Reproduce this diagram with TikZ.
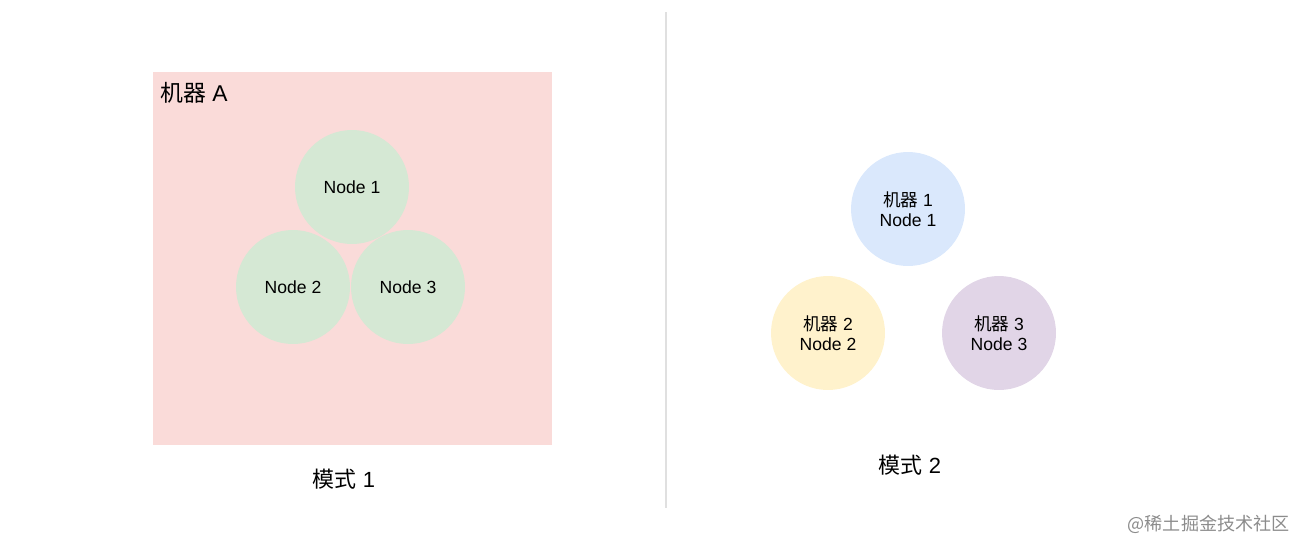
\documentclass[tikz,border=0pt]{standalone}
\usepackage{fontspec}
\setmainfont{Liberation Sans}
\newfontfamily\cjk{Noto Sans CJK SC}
\usetikzlibrary{positioning}

\definecolor{hostpink}{HTML}{FADBD9}
\definecolor{nodegreen}{HTML}{D5E8D4}
\definecolor{nodeblue}{HTML}{DAE8FC}
\definecolor{nodeyellow}{HTML}{FFF2CC}
\definecolor{nodepurple}{HTML}{E1D5E7}

\tikzset{
  proc/.style={circle, inner sep=0pt, minimum size=2.28cm, text=black,
    align=center, font=\fontsize{10}{11.5}\selectfont},
  caption/.style={font=\fontsize{12.5}{14}\selectfont}
}

\begin{document}
\begin{tikzpicture}[x=0.02cm, y=-0.02cm]
\useasboundingbox (0,0) rectangle (1304,551);

\def\ya{187};
\def\yb{287};
\def\yc{209};
\def\yd{333};

% mode 1: one machine
\node[fill=hostpink, minimum width=7.98cm, minimum height=7.46cm, inner sep=0pt] (hostA) at (352.5,258.5) {};
\node[anchor=north west, inner sep=0pt, font=\fontsize{13}{15}\selectfont] (hostAlabel) at (160,82) {{\cjk 机器} A};

\node[proc, fill=nodegreen] (n1) at (352,\ya) {Node 1};
\node[proc, fill=nodegreen] (n2) at (293,\yb) {Node 2};
\node[proc, fill=nodegreen] (n3) at (408,\yb) {Node 3};

\node[caption] (mode1) at (344,479) {{\cjk 模式} 1};

% divider
\coordinate (divtop) at (666,12);
\coordinate (divbot) at (666,508);
\draw[line width=0.6pt, black!12] (divtop) -- (divbot);

% mode 2: one machine per node
\node[proc, fill=nodeblue] (m1) at (908,\yc) {{\cjk 机器} 1\\Node 1};
\node[proc, fill=nodeyellow] (m2) at (828,\yd) {{\cjk 机器} 2\\Node 2};
\node[proc, fill=nodepurple] (m3) at (999,\yd) {{\cjk 机器} 3\\Node 3};

\node[caption] (mode2) at (910,465) {{\cjk 模式} 2};

\node[anchor=east, inner sep=0pt, text=black!45, font=\cjk\fontsize{10.3}{12}\selectfont] (mark) at (1290,524) {@稀土掘金技术社区};
\end{tikzpicture}
\end{document}
